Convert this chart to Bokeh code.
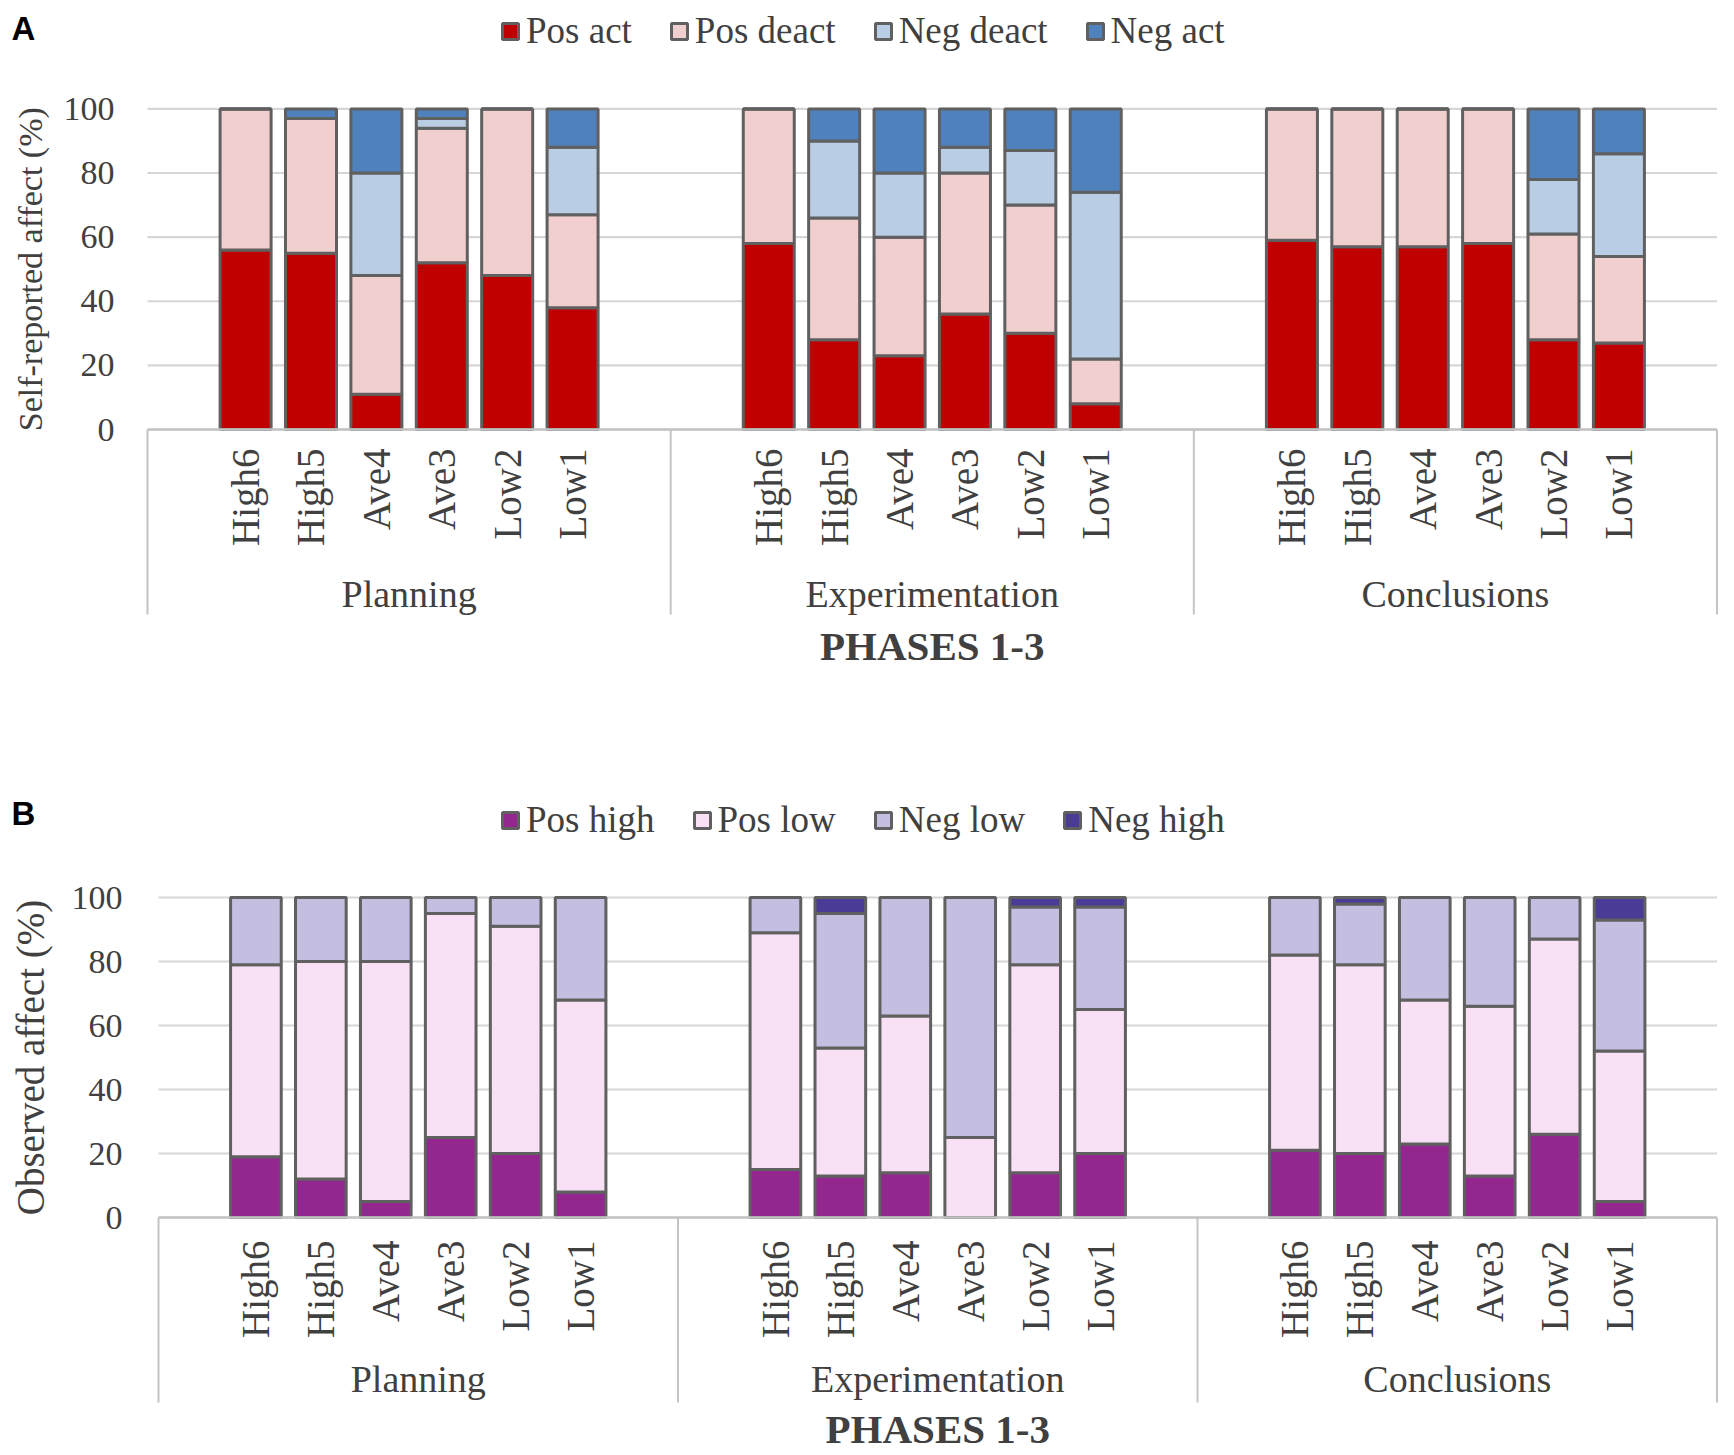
import math
from bokeh.plotting import figure
from bokeh.models import ColumnDataSource, Range1d
from bokeh.layouts import column
from bokeh.embed import file_html
from bokeh.resources import INLINE
from bokeh.core.properties import value

# ---------------- data ----------------
phases = ["Planning", "Experimentation", "Conclusions"]
groups = ["High6", "High5", "Ave4", "Ave3", "Low2", "Low1"]
ticks = [0, 20, 40, 60, 80, 100]
tick_labels = ["0", "20", "40", "60", "80", "100"]

# Panel A: self-reported affect (%), order: Planning x6, Experimentation x6, Conclusions x6
a_names = ["Pos act", "Pos deact", "Neg deact", "Neg act"]
a_pos_act = [56, 55, 11, 52, 48, 38, 58, 28, 23, 36, 30, 8, 59, 57, 57, 58, 28, 27]
a_pos_deact = [44, 42, 37, 42, 52, 29, 42, 38, 37, 44, 40, 14, 41, 43, 43, 42, 33, 27]
a_neg_deact = [0, 0, 32, 3, 0, 21, 0, 24, 20, 8, 17, 52, 0, 0, 0, 0, 17, 32]
a_neg_act = [0, 3, 20, 3, 0, 12, 0, 10, 20, 12, 13, 26, 0, 0, 0, 0, 22, 14]
a_colors = ["#C00000", "#F2CFCF", "#B9CDE5", "#4F81BD"]

# Panel B: observed affect (%)
b_names = ["Pos high", "Pos low", "Neg low", "Neg high"]
b_pos_high = [19, 12, 5, 25, 20, 8, 15, 13, 14, 0, 14, 20, 21, 20, 23, 13, 26, 5]
b_pos_low = [60, 68, 75, 70, 71, 60, 74, 40, 49, 25, 65, 45, 61, 59, 45, 53, 61, 47]
b_neg_low = [21, 20, 20, 5, 9, 32, 11, 42, 37, 75, 18, 32, 18, 19, 32, 34, 13, 41]
b_neg_high = [0, 0, 0, 0, 0, 0, 0, 5, 0, 0, 3, 3, 0, 2, 0, 0, 0, 7]
b_colors = ["#93278F", "#F8E0F5", "#C4BEE1", "#4A3C96"]

TXT = "#404040"
SERIF = "Liberation Serif"
SLOTS = len(groups) + 2  # one empty slot on each side of a phase group
W = 1718


def panel(letter, names, vals, colors, ytitle, ytitle_size, H, x0, tick_right,
          y100, y0, lab_off, grp_off, title_off, legend_xy, letter_y):
    n_slots = SLOTS * len(phases)
    spx = (W - 1.5 - x0) / n_slots          # pixels per slot
    ppu = (y0 - y100) / 100.0               # pixels per percent
    ytop = 100 + y100 / ppu
    ybot = -(H - y0) / ppu

    def fx(px):
        return (px - x0) / spx

    def fy(py):
        return 100 - (py - y100) / ppu

    p = figure(width=W, height=H, output_backend="svg", toolbar_location=None,
               x_range=Range1d(fx(0), fx(W)), y_range=Range1d(ybot, ytop),
               x_axis_location=None, y_axis_location=None,
               min_border_left=0, min_border_right=0,
               min_border_top=0, min_border_bottom=0, outline_line_color=None)
    p.xgrid.visible = False
    p.ygrid.visible = False

    # horizontal gridlines at the ticks
    p.segment(x0=[0] * len(ticks), y0=ticks, x1=[n_slots] * len(ticks), y1=ticks,
              line_color="#D6D6D6", line_width=2.2)
    # tick labels
    p.text(x=[fx(tick_right)] * len(ticks), y=ticks, text=tick_labels, text_align="right",
           text_baseline="middle", text_font=value(SERIF), text_font_size="34px",
           text_color=TXT)

    xs = [g * SLOTS + 1.5 + i for g in range(len(phases)) for i in range(len(groups))]
    cats = [c for _ in phases for c in groups]
    data = {"x": xs, "cat": cats}
    for nm, v in zip(names, vals):
        data[nm] = v
    src = ColumnDataSource(data)

    p.vbar_stack(names, x="x", width=0.78, source=src, fill_color=colors,
                 line_color="#606060", line_width=3, legend_label=names)

    # category axis line and separators of the phase groups
    sep_x = [g * SLOTS for g in range(len(phases) + 1)]
    sep_bottom = -185 / ppu
    p.segment(x0=sep_x, y0=[0] * len(sep_x), x1=sep_x, y1=[sep_bottom] * len(sep_x),
              line_color="#C4C4C4", line_width=2)
    p.segment(x0=[0], y0=[0], x1=[n_slots], y1=[0], line_color="#C4C4C4", line_width=2.5)

    # category labels (rotated)
    p.text(x="x", y=-lab_off / ppu, text="cat", source=src, angle=math.pi / 2,
           text_align="right", text_baseline="middle", text_font=value(SERIF),
           text_font_size="39px", text_color=TXT)

    # phase labels
    gx = [g * SLOTS + SLOTS / 2 for g in range(len(phases))]
    p.text(x=gx, y=[-grp_off / ppu] * len(gx), text=phases, text_align="center",
           text_baseline="middle", text_font=value(SERIF), text_font_size="38px",
           text_color=TXT)

    # axis title (category)
    p.text(x=[n_slots / 2], y=[-title_off / ppu], text=["PHASES 1-3"], text_align="center",
           text_baseline="middle", text_font=value(SERIF), text_font_size="41px",
           text_font_style="bold", text_color=TXT)

    # y axis title
    p.text(x=[fx(30)], y=[50], text=[ytitle], angle=math.pi / 2, text_align="center",
           text_baseline="middle", text_font=value(SERIF), text_font_size=ytitle_size,
           text_color=TXT)
    # panel letter
    p.text(x=[fx(11)], y=[fy(letter_y)], text=[letter], text_align="left",
           text_baseline="middle", text_font=value("Liberation Sans"),
           text_font_size="33px", text_font_style="bold", text_color="#000000")

    leg = p.legend[0]
    leg.orientation = "horizontal"
    leg.location = legend_xy
    leg.glyph_width = 20
    leg.glyph_height = 20
    leg.label_standoff = 6
    leg.spacing = 37
    leg.padding = 0
    leg.margin = 0
    leg.border_line_color = None
    leg.background_fill_alpha = 0
    leg.label_text_font = SERIF
    leg.label_text_font_size = "37px"
    leg.label_text_color = TXT
    return p


pa = panel("A", a_names, [a_pos_act, a_pos_deact, a_neg_deact, a_neg_act], a_colors,
           "Self-reported affect (%)", "34px", H=720, x0=147, tick_right=114,
           y100=108.4, y0=429, lab_off=19, grp_off=164, title_off=216,
           legend_xy=(500, 668), letter_y=28)
pb = panel("B", b_names, [b_pos_high, b_pos_low, b_neg_low, b_neg_high], b_colors,
           "Observed affect (%)", "39px", H=733, x0=158, tick_right=122,
           y100=177, y0=497, lab_off=23, grp_off=161, title_off=211,
           legend_xy=(500, 612), letter_y=93)

layout = column(pa, pb, spacing=0)
open("out.html", "w").write(file_html(layout, INLINE))
